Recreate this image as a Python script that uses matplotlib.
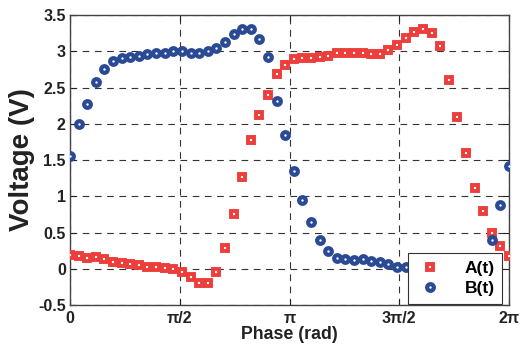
"""
Phase sweep of two probe voltages, A(t) and B(t), sampled over one period.
"""

import numpy as np
import matplotlib
matplotlib.use("Agg")
import matplotlib.pyplot as plt

OUTPUT_PNG = "out.png"

N_SAMPLES = 52
phase = np.linspace(0, 2 * np.pi, N_SAMPLES)

volt_a = [
    0.19, 0.17, 0.15, 0.16, 0.14, 0.10, 0.08, 0.06, 0.05, 0.03,
    0.02, 0.01, -0.01, -0.04, -0.12, -0.20, -0.19, -0.04, 0.28, 0.75,
    1.27, 1.77, 2.12, 2.40, 2.69, 2.81, 2.89, 2.91, 2.91, 2.92,
    2.94, 2.97, 2.97, 2.98, 2.97, 2.96, 2.96, 3.02, 3.08, 3.18,
    3.26, 3.31, 3.25, 3.07, 2.61, 2.09, 1.59, 1.12, 0.79, 0.50,
    0.31, 0.17,
]
volt_b = [
    1.55, 1.99, 2.27, 2.58, 2.76, 2.86, 2.91, 2.92, 2.94, 2.96,
    2.97, 2.98, 3.00, 3.00, 2.98, 2.97, 3.00, 3.05, 3.13, 3.24,
    3.31, 3.31, 3.17, 2.92, 2.32, 1.84, 1.35, 0.95, 0.64, 0.40,
    0.25, 0.15, 0.13, 0.12, 0.14, 0.11, 0.10, 0.06, 0.03, 0.02,
    0.00, -0.01, -0.01, 0.00, 0.00, 0.00, 0.01, 0.02, 0.05, 0.39,
    0.88, 1.42,
]

x_ticks = [0, np.pi / 2, np.pi, 3 * np.pi / 2, 2 * np.pi]
x_ticklabels = ["0", "π/2", "π", "3π/2", "2π"]
y_ticks = [-0.5, 0, 0.5, 1, 1.5, 2, 2.5, 3, 3.5]
y_ticklabels = ["-0.5", "0", "0.5", "1", "1.5", "2", "2.5", "3", "3.5"]

RED = "#ee3e3c"
BLUE = "#2a4a94"

plt.rcParams["font.family"] = ["Liberation Sans", "DejaVu Sans"]
plt.rcParams["font.weight"] = "bold"

fig = plt.figure(figsize=(5.28, 3.46), dpi=100)
ax = fig.add_axes([0.1326, 0.1185, 0.8314, 0.8381])

ax.plot(phase, volt_a, linestyle="none", marker="s", markersize=5.0,
        markerfacecolor="white", markeredgecolor=RED, markeredgewidth=2.8,
        label="A(t)", zorder=3)
ax.plot(phase, volt_b, linestyle="none", marker="o", markersize=4.8,
        markerfacecolor="white", markeredgecolor=BLUE, markeredgewidth=3.0,
        label="B(t)", zorder=3)

ax.set_xlim(0, 2 * np.pi)
ax.set_ylim(-0.5, 3.5)
ax.set_xticks(x_ticks)
ax.set_xticklabels(x_ticklabels)
ax.set_yticks(y_ticks)
ax.set_yticklabels(y_ticklabels)
ax.tick_params(direction="in", length=4, width=0.8, top=True, right=True,
               labelsize=11.5, colors="#222222")
ax.tick_params(axis="x", pad=4)
ax.tick_params(axis="y", pad=3)
ax.grid(True, color="#333333", linestyle=(0, (6, 5)), linewidth=0.8)
for spine in ax.spines.values():
    spine.set_color("#444444")
    spine.set_linewidth(1.0)

ax.set_xlabel("Phase (rad)", fontsize=12.8, fontweight="bold", labelpad=0,
              color="#222222")
ax.set_ylabel("Voltage (V)", fontsize=20, fontweight="bold", labelpad=2,
              color="#222222")

leg = ax.legend(loc="lower right", bbox_to_anchor=(0.985, 0.005),
                borderaxespad=0, fancybox=False, framealpha=1,
                edgecolor="#333333", fontsize=12.5, handlelength=1.6,
                handletextpad=1.2, borderpad=0.45, labelspacing=0.25)
leg.get_frame().set_linewidth(0.8)
leg.set_zorder(5)

fig.savefig(OUTPUT_PNG, dpi=100)
